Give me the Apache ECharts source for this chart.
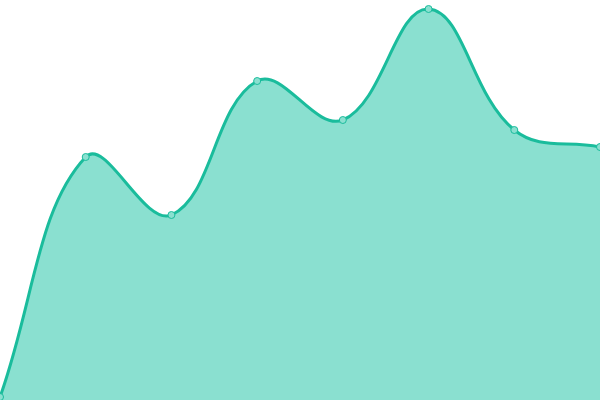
<!DOCTYPE html>
<html>
<head>
<meta charset="utf-8">
<script src="https://cdn.jsdelivr.net/npm/echarts@6/dist/echarts.min.js"></script>
<style>
html,body{margin:0;padding:0;background:#fff;}
#echart{width:600px;height:400px;}
</style>
</head>
<body>
<div id="echart"></div>
<script>
var categories = ['1', '2', '3', '4', '5', '6', '7', '8'];
var values = [3, 243, 185, 319, 280, 391, 270, 253];

var TENSION = 0.4;

// cubic spline through the points, control points kept inside the plot area
function smoothPath(pts, box) {
    function clamp(p) {
        return [Math.min(box[2], Math.max(box[0], p[0])), Math.min(box[3], Math.max(box[1], p[1]))];
    }
    var cps = [];
    for (var i = 0; i < pts.length; i++) {
        var p = pts[i];
        var prev = pts[i - 1] || p, next = pts[i + 1] || p;
        var d01 = Math.hypot(p[0] - prev[0], p[1] - prev[1]);
        var d12 = Math.hypot(next[0] - p[0], next[1] - p[1]);
        var s01 = d01 / (d01 + d12), s12 = d12 / (d01 + d12);
        s01 = isNaN(s01) ? 0 : s01;
        s12 = isNaN(s12) ? 0 : s12;
        var fa = TENSION * s01, fb = TENSION * s12;
        cps.push(clamp([p[0] - fa * (next[0] - prev[0]), p[1] - fa * (next[1] - prev[1])]));
        cps.push(clamp([p[0] + fb * (next[0] - prev[0]), p[1] + fb * (next[1] - prev[1])]));
    }
    var d = 'M' + pts[0][0] + ' ' + pts[0][1];
    for (var j = 1; j < pts.length; j++) {
        var c0 = cps[(j - 1) * 2 + 1], c1 = cps[j * 2];
        d += ' C' + c0[0] + ' ' + c0[1] + ' ' + c1[0] + ' ' + c1[1] + ' ' + pts[j][0] + ' ' + pts[j][1];
    }
    return d;
}

var myChart = echarts.init(document.getElementById('echart'));
var option = {
    animation: false,
    grid: {
        left: 0,
        right: 0,
        top: 0,
        bottom: 0
    },
    xAxis: {
        type: 'category',
        boundaryGap: false,
        data: categories,
        show: false
    },
    yAxis: {
        type: 'value',
        min: 0,
        max: 400,
        show: false
    },
    series: [{
        type: 'custom',
        z: 2,
        clip: true,
        data: [[0, values[0]]],
        renderItem: function (params, api) {
            var pts = values.map(function (v, i) { return api.coord([i, v]); });
            var cs = params.coordSys;
            var box = [cs.x, cs.y, cs.x + cs.width, cs.y + cs.height];
            var base = api.coord([0, 0])[1];
            var line = smoothPath(pts, box);
            var last = pts[pts.length - 1];
            var area = line + ' L' + last[0] + ' ' + base + ' L' + pts[0][0] + ' ' + base + ' Z';
            return {
                type: 'group',
                children: [{
                    type: 'path',
                    shape: { pathData: area },
                    style: { fill: '#8ae0d0', stroke: null }
                }, {
                    type: 'path',
                    shape: { pathData: line },
                    style: { fill: null, stroke: '#1abc9c', lineWidth: 3 }
                }]
            };
        }
    }, {
        type: 'line',
        z: 3,
        data: values,
        symbol: 'circle',
        symbolSize: 7,
        lineStyle: { width: 0, opacity: 0 },
        itemStyle: {
            color: '#8ae0d0',
            borderColor: '#1abc9c',
            borderWidth: 1
        }
    }]
};
myChart.setOption(option);
</script>
</body>
</html>
